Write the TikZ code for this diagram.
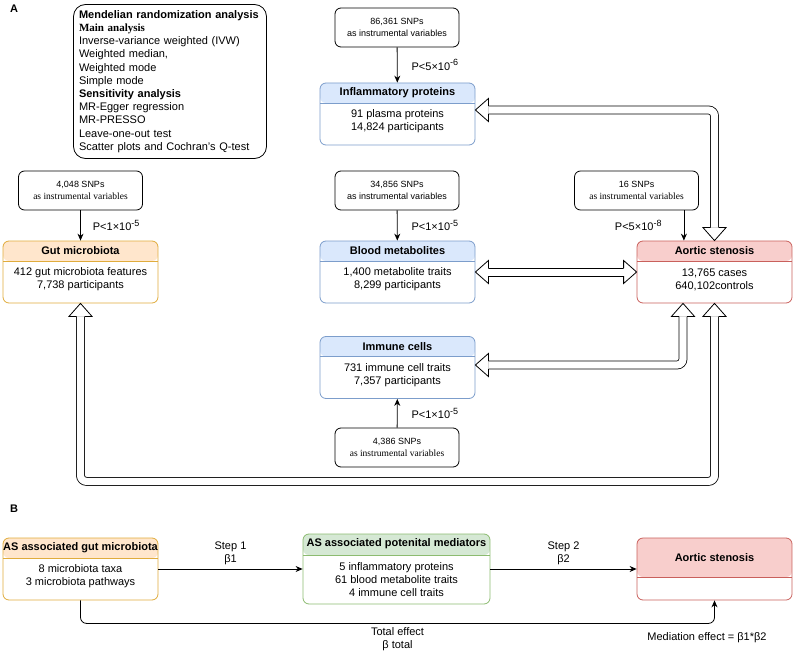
\documentclass[tikz,border=0pt]{standalone}
\usepackage{fontspec}
\setmainfont{Liberation Sans}
\newfontfamily\timesfont{Liberation Serif}
\usetikzlibrary{arrows.meta,positioning,calc}

\definecolor{orangefill}{HTML}{FFE6CC}
\definecolor{orangeline}{HTML}{E0AC3C}
\definecolor{bluefill}{HTML}{DAE8FC}
\definecolor{blueline}{HTML}{7C9DCB}
\definecolor{redfill}{HTML}{F8CECC}
\definecolor{redline}{HTML}{C9605C}
\definecolor{greenfill}{HTML}{D5E8D4}
\definecolor{greenline}{HTML}{8CBB70}

\newcommand{\ivsans}{as instrumental variables}
\newcommand{\ivserif}{{\timesfont\fontsize{9.5}{12}\selectfont as instrumental variables}}
\newcommand{\pexp}[1]{\raisebox{4.5pt}{\fontsize{9}{9}\selectfont #1}}
\newcommand{\hollowhead}[2]{%
  \filldraw[fill=white, line join=miter, shift={(#1)}, rotate=#2]
    (-13,4) -- (-13,11.5) -- (0,0) -- (-13,-11.5) -- (-13,-4);}

\tikzset{
  panel/.style 2 args={draw=#1line, fill=white, rounded corners=6pt, inner sep=0pt,
    minimum width=155pt, minimum height=62pt,
    path picture={\fill[#1fill] (path picture bounding box.north west)
        rectangle ([yshift=-#2]path picture bounding box.north east);
      \draw[#1line] ([yshift=-#2]path picture bounding box.north west)
        -- ([yshift=-#2]path picture bounding box.north east);}},
  title/.style={inner sep=0pt, font=\bfseries\fontsize{11}{13}\selectfont},
  body/.style={inner sep=0pt, align=center, font=\fontsize{11}{13.2}\selectfont},
  snp/.style={draw, rounded corners=6pt, minimum width=124pt, minimum height=39pt,
    inner sep=0pt, align=center, font=\fontsize{9}{12}\selectfont},
  plabel/.style={inner sep=1pt, font=\fontsize{11}{13}\selectfont},
  arr/.style={-{Stealth[length=7pt,width=6pt]}},
  shaft/.style={double=white, double distance=7.2pt, rounded corners=6pt,
    shorten <=13pt, shorten >=13pt}
}

\begin{document}
\begin{tikzpicture}[x=1pt, y=-1pt, line width=0.8pt,
    every node/.style={font=\fontsize{11}{13.2}\selectfont}]
  \useasboundingbox (0,0) rectangle (794,652);

  %Panel A
  \node[font=\bfseries\fontsize{11}{13}\selectfont] (tagA) at (14,9) {A};
  \node[draw, rounded corners=12pt, minimum width=193pt, minimum height=154pt,
        text width=182pt, inner sep=0pt, align=left] (mr) at (170,81.5)
    {\textbf{Mendelian randomization analysis}\\
     {\timesfont\bfseries Main analysis}\\
     Inverse-variance weighted (IVW)\\
     Weighted median,\\
     Weighted mode\\
     Simple mode\\
     \textbf{Sensitivity analysis}\\
     MR-Egger regression\\
     MR-PRESSO\\
     Leave-one-out test\\
     Scatter plots and Cochran's Q-test};

  %Exposures and outcome
  \node[panel={blue}{20pt}] (infl) at (397.5,114) {};
  \node[title] (inflT) at ([yshift=-10pt]infl.north) {Inflammatory proteins};
  \node[body] (inflD) at ([yshift=-7.5pt]infl.center) {91 plasma proteins\\14,824 participants};

  \node[panel={orange}{20pt}] (gut) at (80.5,272) {};
  \node[title] (gutT) at ([yshift=-10pt]gut.north) {Gut microbiota};
  \node[body] (gutD) at ([yshift=-7.5pt]gut.center) {412 gut microbiota features\\7,738 participants};

  \node[panel={blue}{20pt}] (blood) at (397.5,272) {};
  \node[title] (bloodT) at ([yshift=-10pt]blood.north) {Blood metabolites};
  \node[body] (bloodD) at ([yshift=-7.5pt]blood.center) {1,400 metabolite traits\\8,299 participants};

  \node[panel={red}{20pt}] (as) at (714.5,272) {};
  \node[title] (asT) at ([yshift=-10pt]as.north) {Aortic stenosis};
  \node[body] (asD) at ([yshift=-7.5pt]as.center) {13,765 cases\\640,102controls};

  \node[panel={blue}{20pt}] (immune) at (397.5,367.5) {};
  \node[title] (immuneT) at ([yshift=-10pt]immune.north) {Immune cells};
  \node[body] (immuneD) at ([yshift=-7.5pt]immune.center) {731 immune cell traits\\7,357 participants};

  %Instrumental variables
  \node[snp] (snpInfl) at (397,27.5) {86,361 SNPs\\\ivsans};
  \node[snp] (snpGut) at (80.5,190.5) {4,048 SNPs\\\ivserif};
  \node[snp] (snpBlood) at (397,190.5) {34,856 SNPs\\\ivsans};
  \node[snp] (snpAS) at (636.5,190.5) {16 SNPs\\\ivserif};
  \node[snp] (snpImm) at (397,447.5) {4,386 SNPs\\\ivserif};

  \draw[arr] (snpInfl) -- node[plabel, right=13pt] {P<5×10\pexp{-6}} (infl);
  \draw[arr] (snpGut) -- node[plabel, right=11pt] {P<1×10\pexp{-5}} (gut);
  \draw[arr] (snpBlood) -- node[plabel, right=13pt] {P<1×10\pexp{-5}} (blood);
  \draw[arr] ([xshift=-15pt]snpAS.south east) -- node[plabel, left=21pt] {P<5×10\pexp{-8}}
    ([xshift=-15pt]snpAS.south east |- as.north);
  \draw[arr] (snpImm) -- node[plabel, right=13pt] {P<1×10\pexp{-5}} (immune);

  %Hollow arrows
  \coordinate (inflIn) at ([yshift=4pt]infl.east);
  \coordinate (immIn) at ([yshift=2.5pt]immune.east);
  \coordinate (asLeft) at ([xshift=-31.5pt]as.south);
  \draw[shaft] (inflIn) -| (as.north);
  \draw ([shift={(13pt,4pt)}]blood.east) -- ([shift={(-13pt,4pt)}]as.west)
        ([shift={(13pt,-4pt)}]blood.east) -- ([shift={(-13pt,-4pt)}]as.west);
  \draw[shaft] (immIn) -| (asLeft);
  \draw[shaft] (as.south) -- ++(0,178) -| (gut.south);
  \hollowhead{inflIn}{180}
  \hollowhead{as.north}{-90}
  \hollowhead{blood.east}{180}
  \hollowhead{as.west}{0}
  \hollowhead{immIn}{180}
  \hollowhead{asLeft}{90}
  \hollowhead{as.south}{90}
  \hollowhead{gut.south}{90}

  %Panel B
  \node[font=\bfseries\fontsize{11}{13}\selectfont] (tagB) at (14,509) {B};

  \node[panel={orange}{20pt}] (mgut) at (80.5,569) {};
  \node[title] (mgutT) at ([yshift=-10pt]mgut.north) {AS associated gut microbiota};
  \node[body] (mgutD) at ([yshift=-7pt]mgut.center) {8 microbiota taxa\\3 microbiota pathways};

  \node[panel={green}{21pt}, minimum width=187pt, minimum height=70pt] (med) at (396.5,569) {};
  \node[title] (medT) at ([yshift=-10.5pt]med.north) {AS associated potenital mediators};
  \node[body] (medD) at ([yshift=-10.5pt]med.center) {5 inflammatory proteins\\61 blood metabolite traits\\4 immune cell traits};

  \node[panel={red}{39pt}] (mas) at (714.5,569) {};
  \node[title] (masT) at ([yshift=-19.5pt]mas.north) {Aortic stenosis};

  \draw[arr] (mgut) -- node[above, align=center] {Step 1\\β1} (med);
  \draw[arr] (med) -- node[above, align=center] {Step 2\\β2} (mas);
  \draw[arr, rounded corners=6pt] (mgut.south) -- ++(0,23)
    -| node[pos=0.25, below, align=center] {Total effect\\β total} (mas.south);
  \node (medEff) at (707,638) {Mediation effect = β1*β2};
\end{tikzpicture}
\end{document}
